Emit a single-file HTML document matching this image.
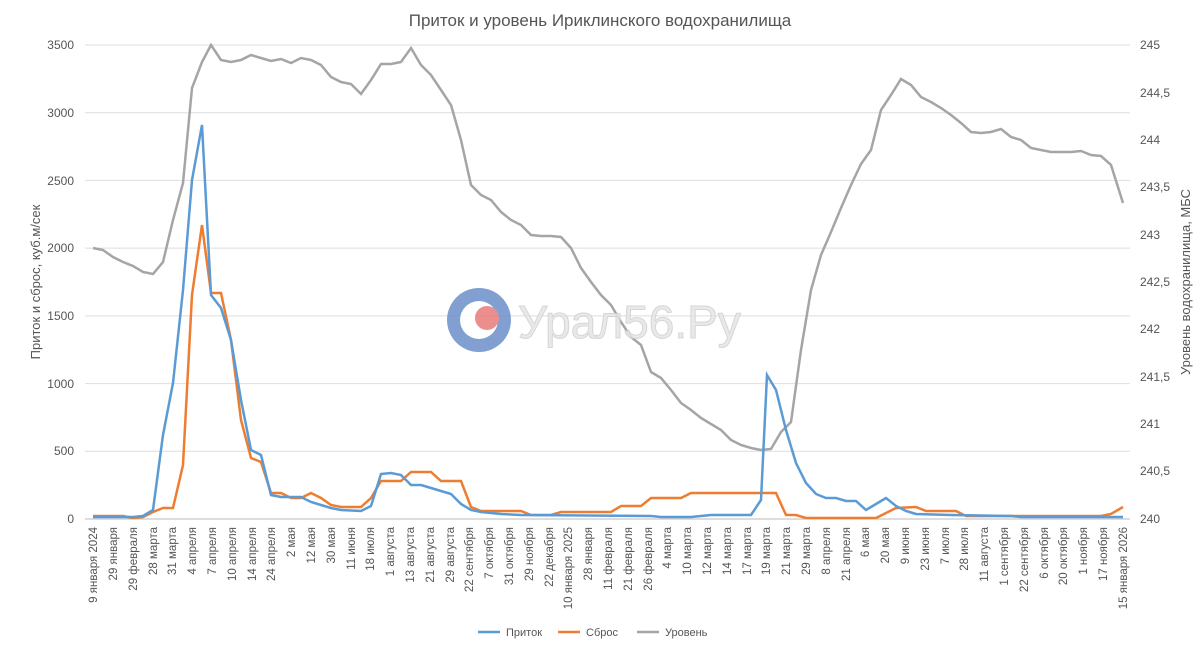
<!DOCTYPE html>
<html><head><meta charset="utf-8"><style>body{margin:0;background:#fff}svg{display:block;font-family:"Liberation Sans",sans-serif}</style></head><body>
<svg width="1200" height="648" viewBox="0 0 1200 648">
<text x="600" y="26" text-anchor="middle" font-size="17" fill="#555">Приток и уровень Ириклинского водохранилища</text>
<g stroke="#dedede" stroke-width="1">
<line x1="85" x2="1130" y1="45" y2="45"/><line x1="85" x2="1130" y1="112.7" y2="112.7"/><line x1="85" x2="1130" y1="180.4" y2="180.4"/><line x1="85" x2="1130" y1="248.1" y2="248.1"/><line x1="85" x2="1130" y1="315.9" y2="315.9"/><line x1="85" x2="1130" y1="383.6" y2="383.6"/><line x1="85" x2="1130" y1="451.3" y2="451.3"/><line x1="85" x2="1130" y1="519" y2="519" stroke="#bbb"/>
</g>
<g font-size="12" fill="#555" text-anchor="end">
<text x="74" y="49">3500</text><text x="74" y="117">3000</text><text x="74" y="185">2500</text><text x="74" y="252">2000</text><text x="74" y="320">1500</text><text x="74" y="388">1000</text><text x="74" y="455">500</text><text x="74" y="523">0</text>
</g>
<g font-size="12" fill="#555">
<text x="1140" y="49">245</text><text x="1140" y="97">244,5</text><text x="1140" y="144">244</text><text x="1140" y="191">243,5</text><text x="1140" y="239">243</text><text x="1140" y="286">242,5</text><text x="1140" y="333">242</text><text x="1140" y="381">241,5</text><text x="1140" y="428">241</text><text x="1140" y="475">240,5</text><text x="1140" y="523">240</text>
</g>
<text transform="translate(40,282) rotate(-90)" text-anchor="middle" font-size="13" fill="#555">Приток и сброс, куб.м/сек</text>
<text transform="translate(1190,282) rotate(-90)" text-anchor="middle" font-size="13" fill="#555">Уровень водохранилища, МБС</text>
<g font-size="11.5" fill="#555" text-anchor="end" id="xl"></g>
<polyline fill="none" stroke="#a5a5a5" stroke-width="2.5" points="93,248 103,250 113,257 123,262 133,266 143,272 153,274 163,262 173,220 183,183 192,88 202,62 211,45 221,60 231,62 241,60 251,55 261,58 271,61 281,59 291,63 301,58 311,60 321,65 331,77 341,82 351,84 361,94 371,80 381,64 391,64 401,62 411,48 421,65 431,75 441,90 451,105 461,140 471,185 481,195 491,200 501,212 511,220 521,225 531,235 541,236 551,236 561,237 571,248 581,268 591,282 601,295 611,305 621,322 631,337 641,345 651,372 661,378 671,390 681,403 691,410 701,418 711,424 721,430 731,440 741,445 751,448 761,450 771,449 781,432 791,422 801,350 811,290 821,255 831,232 841,208 851,185 861,164 871,150 881,110 891,95 901,79 911,85 921,97 931,102 941,108 951,115 961,123 971,132 981,133 991,132 1001,129 1011,137 1021,140 1031,148 1041,150 1051,152 1061,152 1071,152 1081,151 1091,155 1101,156 1111,165 1123,203"/>
<polyline fill="none" stroke="#ed7d31" stroke-width="2.5" points="93,516 123,516 133,518 143,517 153,512 163,508 173,508 183,465 192,295 202,225 211,293 221,293 231,340 241,420 251,458 261,462 271,493 281,493 291,498 301,498 311,493 321,498 331,505 341,507 361,507 371,498 381,481 401,481 411,472 431,472 441,481 461,481 471,507 481,511 521,511 531,515 551,515 561,512 611,512 621,506 641,506 651,498 681,498 691,493 776,493 786,515 796,515 806,518 876,518 886,513 896,508 916,507 926,511 956,511 966,516 1101,516 1111,514 1123,507"/>
<polyline fill="none" stroke="#5b9bd5" stroke-width="2.5" points="93,517 133,517 143,516 153,510 163,435 173,383 183,290 192,180 202,125 211,295 221,308 231,340 241,400 251,450 261,455 271,495 281,497 301,497 311,502 321,505 331,508 341,510 361,511 371,506 381,474 391,473 401,475 411,485 421,485 431,488 441,491 451,494 461,504 471,510 481,512 491,513 501,514 521,515 651,516 661,517 691,517 701,516 711,515 751,515 761,500 767,375 776,390 786,430 796,463 806,483 816,494 826,498 836,498 846,501 856,501 866,510 876,504 886,498 896,506 906,511 916,514 951,515 1011,516 1021,517 1123,517"/>
<g opacity="0.85">
<circle cx="479" cy="320" r="32" fill="#6d8fc9"/><circle cx="479" cy="320" r="19" fill="#fff"/><circle cx="487" cy="318" r="12" fill="#e87b7b"/>
<text x="518" y="338" font-size="46" fill="#e6e6e6" stroke="#cfcfcf" stroke-width="1">Урал56.Ру</text>
</g>
<g font-size="11" fill="#555">
<line x1="478" x2="500" y1="632" y2="632" stroke="#5b9bd5" stroke-width="2.5"/><text x="506" y="636">Приток</text>
<line x1="558" x2="580" y1="632" y2="632" stroke="#ed7d31" stroke-width="2.5"/><text x="586" y="636">Сброс</text>
<line x1="637" x2="659" y1="632" y2="632" stroke="#a5a5a5" stroke-width="2.5"/><text x="665" y="636">Уровень</text>
</g>
<g font-size="11.5" fill="#555" text-anchor="end">
<text transform="translate(97,527) rotate(-90)">9 января 2024</text>
<text transform="translate(117,527) rotate(-90)">29 января</text>
<text transform="translate(137,527) rotate(-90)">29 февраля</text>
<text transform="translate(157,527) rotate(-90)">28 марта</text>
<text transform="translate(176,527) rotate(-90)">31 марта</text>
<text transform="translate(196,527) rotate(-90)">4 апреля</text>
<text transform="translate(216,527) rotate(-90)">7 апреля</text>
<text transform="translate(236,527) rotate(-90)">10 апреля</text>
<text transform="translate(256,527) rotate(-90)">14 апреля</text>
<text transform="translate(275,527) rotate(-90)">24 апреля</text>
<text transform="translate(295,527) rotate(-90)">2 мая</text>
<text transform="translate(315,527) rotate(-90)">12 мая</text>
<text transform="translate(335,527) rotate(-90)">30 мая</text>
<text transform="translate(355,527) rotate(-90)">11 июня</text>
<text transform="translate(374,527) rotate(-90)">18 июля</text>
<text transform="translate(394,527) rotate(-90)">1 августа</text>
<text transform="translate(414,527) rotate(-90)">13 августа</text>
<text transform="translate(434,527) rotate(-90)">21 августа</text>
<text transform="translate(454,527) rotate(-90)">29 августа</text>
<text transform="translate(473,527) rotate(-90)">22 сентября</text>
<text transform="translate(493,527) rotate(-90)">7 октября</text>
<text transform="translate(513,527) rotate(-90)">31 октября</text>
<text transform="translate(533,527) rotate(-90)">29 ноября</text>
<text transform="translate(553,527) rotate(-90)">22 декабря</text>
<text transform="translate(572,527) rotate(-90)">10 января 2025</text>
<text transform="translate(592,527) rotate(-90)">28 января</text>
<text transform="translate(612,527) rotate(-90)">11 февраля</text>
<text transform="translate(632,527) rotate(-90)">21 февраля</text>
<text transform="translate(652,527) rotate(-90)">26 февраля</text>
<text transform="translate(671,527) rotate(-90)">4 марта</text>
<text transform="translate(691,527) rotate(-90)">10 марта</text>
<text transform="translate(711,527) rotate(-90)">12 марта</text>
<text transform="translate(731,527) rotate(-90)">14 марта</text>
<text transform="translate(751,527) rotate(-90)">17 марта</text>
<text transform="translate(770,527) rotate(-90)">19 марта</text>
<text transform="translate(790,527) rotate(-90)">21 марта</text>
<text transform="translate(810,527) rotate(-90)">29 марта</text>
<text transform="translate(830,527) rotate(-90)">8 апреля</text>
<text transform="translate(850,527) rotate(-90)">21 апреля</text>
<text transform="translate(869,527) rotate(-90)">6 мая</text>
<text transform="translate(889,527) rotate(-90)">20 мая</text>
<text transform="translate(909,527) rotate(-90)">9 июня</text>
<text transform="translate(929,527) rotate(-90)">23 июня</text>
<text transform="translate(949,527) rotate(-90)">7 июля</text>
<text transform="translate(968,527) rotate(-90)">28 июля</text>
<text transform="translate(988,527) rotate(-90)">11 августа</text>
<text transform="translate(1008,527) rotate(-90)">1 сентября</text>
<text transform="translate(1028,527) rotate(-90)">22 сентября</text>
<text transform="translate(1048,527) rotate(-90)">6 октября</text>
<text transform="translate(1067,527) rotate(-90)">20 октября</text>
<text transform="translate(1087,527) rotate(-90)">1 ноября</text>
<text transform="translate(1107,527) rotate(-90)">17 ноября</text>
<text transform="translate(1127,527) rotate(-90)">15 января 2026</text>
</g>
</svg>
</body></html>
